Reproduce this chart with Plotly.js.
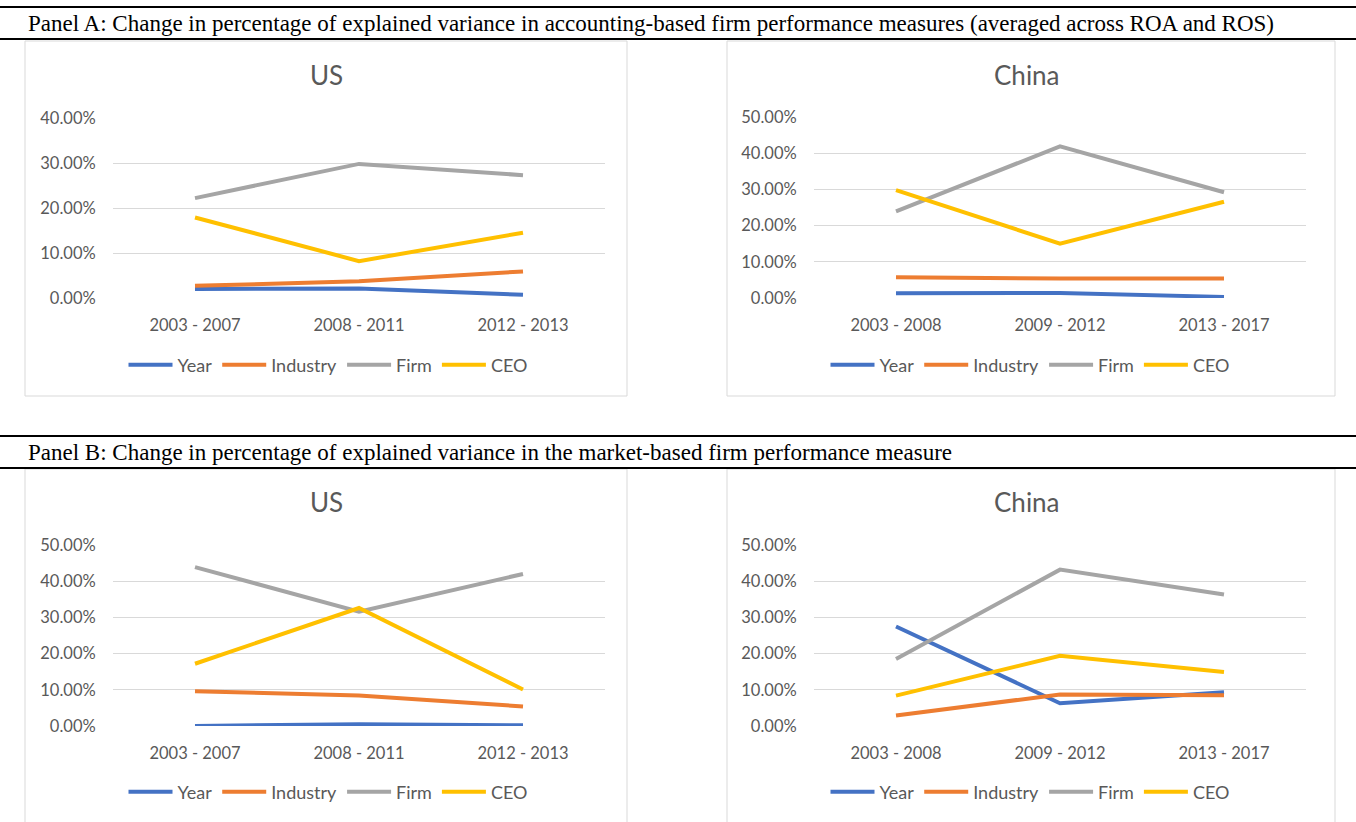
<!DOCTYPE html>
<html>
<head>
<meta charset="utf-8">
<script src="https://cdn.plot.ly/plotly-3.0.1.min.js"></script>
<style>
  html, body { margin: 0; padding: 0; background: #ffffff; }
  #chart { width: 1356px; height: 822px; }
</style>
</head>
<body>
<div id="chart"></div>
<script>
// ---------------- DATA ----------------
const seriesNames = ['Year', 'Industry', 'Firm', 'CEO'];
const seriesColors = ['#4472C4', '#ED7D31', '#A5A5A5', '#FFC000'];

const usPeriods = ['2003 - 2007', '2008 - 2011', '2012 - 2013'];
const chinaPeriods = ['2003 - 2008', '2009 - 2012', '2013 - 2017'];

// Panel A (accounting-based), US
const usAccYear     = [0.020, 0.021, 0.007];
const usAccIndustry = [0.027, 0.037, 0.059];
const usAccFirm     = [0.222, 0.298, 0.273];
const usAccCEO      = [0.179, 0.082, 0.145];

// Panel A (accounting-based), China
const cnAccYear     = [0.013, 0.014, 0.003];
const cnAccIndustry = [0.057, 0.054, 0.054];
const cnAccFirm     = [0.239, 0.419, 0.292];
const cnAccCEO      = [0.298, 0.150, 0.266];

// Panel B (market-based), US
const usMktYear     = [0.000, 0.005, 0.002];
const usMktIndustry = [0.096, 0.084, 0.054];
const usMktFirm     = [0.439, 0.316, 0.420];
const usMktCEO      = [0.172, 0.326, 0.101];

// Panel B (market-based), China
const cnMktYear     = [0.275, 0.063, 0.093];
const cnMktIndustry = [0.029, 0.087, 0.085];
const cnMktFirm     = [0.185, 0.432, 0.363];
const cnMktCEO      = [0.084, 0.194, 0.149];

const panelATitle = 'Panel A: Change in percentage of explained variance in accounting-based firm performance measures (averaged across ROA and ROS)';
const panelBTitle = 'Panel B: Change in percentage of explained variance in the market-based firm performance measure';
const chartTitles = ['US', 'China', 'US', 'China'];

// ---------------- LAYOUT HELPERS ----------------
const W = 1356, H = 822;
const px = v => v / W;
const py = v => 1 - v / H;

const panels = [
  { cats: usPeriods,    data: [usAccYear, usAccIndustry, usAccFirm, usAccCEO], ymax: 0.4,
    xd: [113, 605], yd: [298, 118], frame: [25, 41, 627, 396], titleY: 75,  legY: 365, cx: 328, tx: 326 },
  { cats: chinaPeriods, data: [cnAccYear, cnAccIndustry, cnAccFirm, cnAccCEO], ymax: 0.5,
    xd: [814, 1306], yd: [298, 117], frame: [727, 41, 1335, 396], titleY: 75, legY: 365, cx: 1030, tx: 1027 },
  { cats: usPeriods,    data: [usMktYear, usMktIndustry, usMktFirm, usMktCEO], ymax: 0.5,
    xd: [113, 605], yd: [726, 545], frame: [25, 469, 627, 840], titleY: 502, legY: 792, cx: 328, tx: 326 },
  { cats: chinaPeriods, data: [cnMktYear, cnMktIndustry, cnMktFirm, cnMktCEO], ymax: 0.5,
    xd: [814, 1306], yd: [726, 545], frame: [727, 469, 1335, 840], titleY: 502, legY: 792, cx: 1030, tx: 1027 }
];

const textColor = '#595959';
const baseFont = 'Lato, "Open Sans", sans-serif';

const traces = [];
const layout = {
  width: W, height: H,
  margin: { l: 0, r: 0, t: 0, b: 0, pad: 0 },
  paper_bgcolor: '#ffffff',
  plot_bgcolor: 'rgba(0,0,0,0)',
  font: { family: baseFont, color: textColor, size: 16 },
  shapes: [],
  annotations: []
};

panels.forEach((p, i) => {
  const n = i + 1;
  const xa = n === 1 ? 'x' : 'x' + n;
  const ya = n === 1 ? 'y' : 'y' + n;
  const legName = n === 1 ? 'legend' : 'legend' + n;

  seriesNames.forEach((name, k) => {
    traces.push({
      type: 'scatter',
      mode: 'lines',
      name: name,
      x: p.cats,
      y: p.data[k],
      xaxis: xa,
      yaxis: ya,
      legend: legName,
      line: { color: seriesColors[k], width: 4 },
      hoverinfo: 'skip'
    });
  });

  layout['xaxis' + (n === 1 ? '' : n)] = {
    domain: [px(p.xd[0]), px(p.xd[1])],
    anchor: ya,
    type: 'category',
    range: [-0.5, 2.5],
    showgrid: false,
    zeroline: false,
    showline: false,
    ticks: 'outside',
    ticklen: 12,
    tickcolor: 'rgba(0,0,0,0)',
    tickfont: { family: baseFont, size: 16.5, color: textColor },
    fixedrange: true
  };
  layout['yaxis' + (n === 1 ? '' : n)] = {
    domain: [py(p.yd[0]), py(p.yd[1])],
    anchor: xa,
    range: [0, p.ymax],
    dtick: 0.1,
    tickformat: '.2%',
    showgrid: true,
    gridcolor: '#D9D9D9',
    gridwidth: 1,
    zeroline: false,
    showline: false,
    ticks: 'outside',
    ticklen: 13,
    tickcolor: 'rgba(0,0,0,0)',
    tickfont: { family: baseFont, size: 16.5, color: textColor },
    fixedrange: true
  };

  layout[legName] = {
    orientation: 'h',
    x: px(p.cx), xanchor: 'center',
    y: py(p.legY), yanchor: 'middle',
    font: { family: baseFont, size: 18, color: textColor },
    bgcolor: 'rgba(0,0,0,0)',
    itemwidth: 44,
    traceorder: 'normal'
  };

  // chart frame
  layout.shapes.push({
    type: 'rect', xref: 'paper', yref: 'paper',
    x0: px(p.frame[0]), y0: py(p.frame[1]), x1: px(p.frame[2]), y1: py(p.frame[3]),
    line: { color: '#D9D9D9', width: 1 }, fillcolor: 'rgba(0,0,0,0)', layer: 'below'
  });

  // chart title
  layout.annotations.push({
    text: chartTitles[i], xref: 'paper', yref: 'paper',
    x: px(p.tx), y: py(p.titleY), xanchor: 'center', yanchor: 'middle',
    showarrow: false, font: { family: baseFont, size: 26, color: textColor }
  });
});

// panel header rules
[7, 39, 436, 468].forEach(yv => {
  layout.shapes.push({
    type: 'line', xref: 'paper', yref: 'paper',
    x0: 0, x1: 1, y0: py(yv), y1: py(yv),
    line: { color: '#000000', width: 2 }
  });
});

// panel header texts
const headerFont = { family: '"Liberation Serif", "Times New Roman", serif', size: 23, color: '#000000' };
layout.annotations.push({
  text: panelATitle, xref: 'paper', yref: 'paper',
  x: px(26), y: py(23), xanchor: 'left', yanchor: 'middle',
  showarrow: false, font: headerFont
});
layout.annotations.push({
  text: panelBTitle, xref: 'paper', yref: 'paper',
  x: px(26), y: py(452), xanchor: 'left', yanchor: 'middle',
  showarrow: false, font: headerFont
});

Plotly.newPlot('chart', traces, layout, { displayModeBar: false, staticPlot: true });
</script>
</body>
</html>
